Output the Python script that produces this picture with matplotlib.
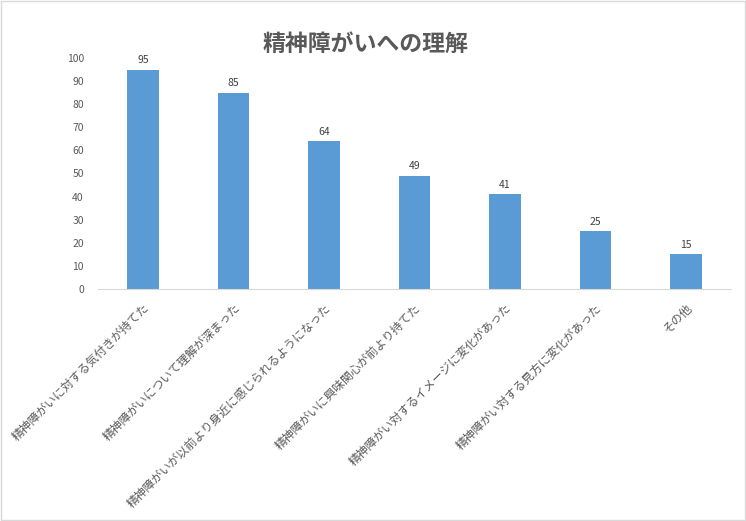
import matplotlib.pyplot as plt

plt.rcParams['font.family'] = ['Noto Sans CJK JP', 'DejaVu Sans']

categories = [
    "精神障がいに対する気付きが持てた",
    "精神障がいについて理解が深まった",
    "精神障がいが以前より身近に感じられるようになった",
    "精神障がいに興味関心が前より持てた",
    "精神障がい対するイメージに変化があった",
    "精神障がい対する見方に変化があった",
    "その他",
]
values = [95, 85, 64, 49, 41, 25, 15]

fig = plt.figure(figsize=(7.46, 5.21), dpi=100)
ax = fig.add_axes([0.131, 0.4453, 0.849, 0.4434])

x = range(len(values))
ax.bar(x, values, width=0.35, color="#5B9BD5")
for xi, v in zip(x, values):
    ax.text(xi, v + 2, str(v), ha="center", va="bottom", fontsize=7.5, color="#404040")

ax.set_xlim(-0.5, len(values) - 0.5)
ax.set_ylim(0, 100)
ax.set_yticks(range(0, 101, 10))
ax.tick_params(axis="y", length=0, labelsize=7.5, labelcolor="#595959", pad=10)
ax.tick_params(axis="x", length=0, labelsize=8.5, labelcolor="#595959", pad=9)
ax.set_xticks(list(x))
ax.set_xticklabels(categories, rotation=45, ha="right", rotation_mode="anchor")

for s in ["top", "right", "left"]:
    ax.spines[s].set_visible(False)
ax.spines["bottom"].set_color("#d9d9d9")

fig.text(0.49, 1 - 44 / 521, "精神障がいへの理解", ha="center", va="center",
         fontsize=16.5, fontweight="bold", color="#595959")

border = plt.Rectangle((0.002, 0.002), 0.996, 0.996, transform=fig.transFigure,
                       fill=False, edgecolor="#d9d9d9", linewidth=1)
fig.patches.append(border)

fig.savefig("out.png", dpi=100)
